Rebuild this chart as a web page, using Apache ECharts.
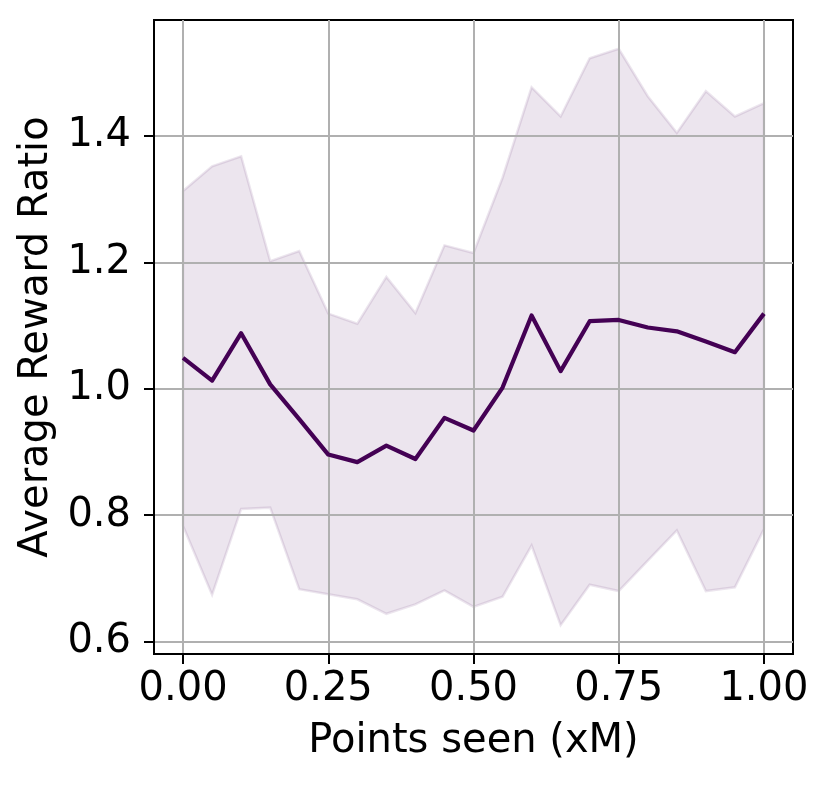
<!DOCTYPE html>
<html>
<head>
<meta charset="utf-8">
<script src="https://cdn.jsdelivr.net/npm/echarts@6/dist/echarts.min.js"></script>
<style>
html,body{margin:0;padding:0;background:#fff;}
#chart{width:830px;height:785px;}
</style>
</head>
<body>
<div id="chart"></div>
<script>
const xPoints = [0.00, 0.05, 0.10, 0.15, 0.20, 0.25, 0.30, 0.35, 0.40, 0.45, 0.50,
                 0.55, 0.60, 0.65, 0.70, 0.75, 0.80, 0.85, 0.90, 0.95, 1.00];
const meanValues = [1.049, 1.013, 1.088, 1.007, 0.952, 0.896, 0.884, 0.910, 0.889, 0.954, 0.934,
                    1.002, 1.116, 1.028, 1.107, 1.109, 1.097, 1.091, 1.075, 1.058, 1.119];
const upperValues = [1.313, 1.352, 1.368, 1.202, 1.218, 1.119, 1.103, 1.177, 1.120, 1.227, 1.215,
                     1.334, 1.477, 1.431, 1.523, 1.538, 1.463, 1.405, 1.471, 1.431, 1.452];
const lowerValues = [0.783, 0.674, 0.810, 0.812, 0.683, 0.675, 0.667, 0.644, 0.659, 0.681, 0.655,
                     0.671, 0.752, 0.626, 0.690, 0.680, 0.728, 0.776, 0.680, 0.686, 0.778];
const xTicks = [0, 0.25, 0.5, 0.75, 1.0];
const yTicks = [0.6, 0.8, 1.0, 1.2, 1.4];

const FONT = 'DejaVu Sans';
const FS = 40;
const meanData = xPoints.map((x, i) => [x, meanValues[i]]);
const bandPolygon = xPoints.map((x, i) => [x, upperValues[i]])
  .concat(xPoints.map((x, i) => [x, lowerValues[i]]).reverse());

const chart = echarts.init(document.getElementById('chart'), null, {renderer: 'canvas'});
chart.setOption({
  animation: false,
  backgroundColor: '#ffffff',
  grid: {
    left: 154, top: 20, width: 639, height: 634,
    show: true, borderColor: '#000000', borderWidth: 2, backgroundColor: 'transparent'
  },
  xAxis: {
    type: 'value', min: -0.05, max: 1.05,
    name: 'Points seen (xM)', nameLocation: 'middle', nameGap: 68,
    nameTextStyle: {fontFamily: FONT, fontSize: FS, color: '#000'},
    axisLine: {show: true, onZero: false, lineStyle: {color: '#000', width: 2}},
    axisTick: {show: true, customValues: xTicks, length: 10, inside: false, lineStyle: {color: '#000', width: 2}},
    axisLabel: {customValues: xTicks, margin: 16, fontFamily: FONT, fontSize: FS, color: '#000',
      formatter: v => v.toFixed(2)},
    splitLine: {show: true, lineStyle: {color: '#b0b0b0', width: 2}}
  },
  yAxis: {
    type: 'value', min: 0.5804, max: 1.5836,
    name: 'Average Reward Ratio', nameLocation: 'middle', nameGap: 96,
    nameTextStyle: {fontFamily: FONT, fontSize: FS, color: '#000'},
    axisLine: {show: true, onZero: false, lineStyle: {color: '#000', width: 2}},
    axisTick: {show: true, customValues: yTicks, length: 10, inside: false, lineStyle: {color: '#000', width: 2}},
    axisLabel: {customValues: yTicks, margin: 23, fontFamily: FONT, fontSize: FS, color: '#000',
      formatter: v => v.toFixed(1)},
    splitLine: {show: true, lineStyle: {color: '#b0b0b0', width: 2}}
  },
  series: [
    {
      type: 'custom', z: -1, silent: true,
      data: [0],
      renderItem: function (params, api) {
        const pts = bandPolygon.map(p => api.coord(p));
        return {
          type: 'polygon',
          shape: {points: pts},
          style: {fill: 'rgba(68,1,84,0.1)', stroke: 'rgba(68,1,84,0.1)', lineWidth: 2.5}
        };
      }
    },
    {
      type: 'line', data: meanData, z: 3,
      symbol: 'none',
      lineStyle: {color: '#440154', width: 4.2, join: 'round'}
    }
  ]
});
</script>
</body>
</html>
